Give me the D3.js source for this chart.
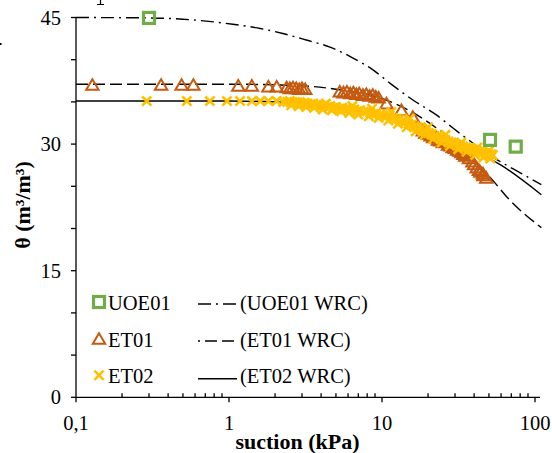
<!DOCTYPE html>
<html>
<head>
<meta charset="utf-8">
<script src="https://cdn.jsdelivr.net/npm/d3@7"></script>
<style>
  html, body { margin: 0; padding: 0; background: #fff; }
  svg { display: block; font-family: "Liberation Serif", "Times New Roman", serif; }
</style>
</head>
<body>
<svg id="chart" width="552" height="453"></svg>
<script>
// Axis ticks
const xMajorTicks = [0.1, 1, 10, 100];
const xTickLabels = ["0,1", "1", "10", "100"];
const yMinorTicks = [0, 5, 10, 15, 20, 25, 30, 35, 40, 45];
const yTickLabels = [0, 15, 30, 45];

// Measured points: UOE01
const uoeSuction = [0.3, 50.8, 74.8];
const uoeTheta   = [44.95, 30.5, 29.7];

// Measured points: ET01
const et01Suction = [0.128, 0.36, 0.49, 0.585, 1.15, 1.41, 1.81, 2.05, 2.38, 2.5, 2.62, 2.75, 2.88, 3.0, 3.15,
  5.3, 5.6, 5.9, 6.2, 6.5, 6.8, 7.1, 7.5, 7.9, 8.3, 8.7, 9.1, 9.5, 10.7, 13.4, 15.9,
  18.5, 19.2, 20, 20.8, 21.6, 22.4, 23.2, 24, 25, 26, 27, 28, 29, 30, 31, 32, 33, 34, 35, 36, 37,
  39, 40, 41.6, 43, 44, 45.7, 46, 48];
const et01Theta = [37.0, 37.0, 37.0, 37.0, 36.9, 36.9, 36.8, 36.8, 36.7, 36.6, 36.7, 36.6, 36.5, 36.6, 36.5,
  36.2, 36.1, 36.2, 36.0, 36.1, 35.9, 36.0, 35.8, 35.9, 35.7, 35.8, 35.6, 35.5, 34.8, 34.0, 33.2,
  31.6, 31.3, 31.2, 31.0, 30.8, 30.9, 30.5, 30.4, 30.2, 30.3, 29.9, 29.8, 29.6, 29.5, 29.3, 29.2, 29.0, 28.8, 28.6, 28.8, 28.3,
  27.9, 27.6, 27.2, 26.9, 26.7, 26.5, 26.3, 26.0];

// Measured points: ET02
const et02Suction = [0.29, 0.53, 0.75, 0.97, 1.18, 1.41, 1.6, 1.81, 2.05, 2.26,
  2.4, 2.5, 2.6, 2.7, 2.8, 2.9, 3.0, 3.1, 3.25, 3.4, 3.55, 3.7, 3.85, 4.0, 4.2, 4.4, 4.6, 4.8, 5.0, 5.25, 5.5, 5.75,
  6.0, 6.3, 6.6, 6.9, 7.2, 7.6, 8.0, 8.4, 8.8, 9.2, 9.7, 10.2, 10.7, 11.2, 11.8, 12.4, 13, 13.6, 14.2, 14.9, 15.6,
  16.3, 17, 17.7, 18.5, 19.3, 20.2, 21.1, 22, 23, 24, 25, 26, 27.2, 28.4, 29.6, 31, 32.4, 33.8, 35.3, 36.8, 38.4,
  40, 41.7, 43.5, 45.4, 47.4, 49.4, 51.5, 53,
  2.55, 2.85, 3.2, 3.6, 4.1, 4.7, 5.4, 6.1, 7.0, 8.2, 9.5, 11, 12.7, 14.5, 16.6, 19, 21.6, 24.5, 27.8, 31.5, 35.8, 40.7, 46, 51,
  4.3, 6.4, 8.6, 11.5, 15.2, 20, 26, 33, 42, 50];
const et02Theta = [35.1, 35.1, 35.1, 35.1, 35.1, 35.1, 35.1, 35.1, 35.1, 35.0,
  35.0, 35.1, 34.9, 35.0, 34.9, 35.0, 34.8, 34.9, 34.8, 34.7, 34.8, 34.6, 34.7, 34.5, 34.6, 34.4, 34.5, 34.3, 34.4, 34.2, 34.3, 34.1,
  34.2, 34.0, 34.1, 33.9, 34.0, 33.8, 33.9, 33.7, 33.6, 33.7, 33.5, 33.4, 33.3, 33.4, 33.1, 33.0, 32.9, 32.7, 32.6, 32.4, 32.3,
  32.1, 32.0, 31.8, 31.6, 31.5, 31.3, 31.2, 31.0, 30.9, 30.7, 30.6, 30.5, 30.3, 30.2, 30.1, 29.9, 29.8, 29.7, 29.6, 29.5, 29.4,
  29.3, 29.2, 29.1, 29.0, 28.9, 28.8, 28.8, 28.7,
  34.6, 34.5, 34.4, 34.3, 34.1, 34.0, 33.9, 33.7, 33.5, 33.3, 33.1, 32.8, 32.4, 32.0, 31.5, 31.1, 30.6, 30.2, 29.8, 29.4, 29.1, 28.7, 28.4, 28.3,
  34.8, 34.5, 34.2, 33.8, 33.0, 32.0, 31.1, 30.2, 29.6, 29.2];

// Water retention curves
const uoeWrcSuction = [0.1, 0.3, 0.5, 1.06, 1.6, 2.25, 3.24, 4.57, 6.46, 8.73, 11.3, 16, 22.9, 29.1, 39.4, 54.8, 80, 110];
const uoeWrcTheta   = [45.0, 44.95, 44.8, 44.2, 43.7, 43.1, 42.3, 41.5, 40.2, 38.8, 37.2, 35.2, 33.4, 31.9, 30.1, 28.3, 26.6, 25.2];
const et01WrcSuction = [0.1, 1, 3, 5, 10, 15, 20, 30, 53, 65, 110];
const et01WrcTheta   = [37.1, 37.1, 36.9, 36.5, 35.4, 34.0, 32.6, 30.2, 25.7, 23.8, 20.1];
const et02WrcSuction = [0.1, 1, 2, 3, 5, 10, 20, 40, 60, 110];
const et02WrcTheta   = [35.1, 35.1, 35.0, 34.8, 34.4, 33.4, 31.5, 29.2, 27.5, 24.0];

const colUoe = "#70AD47", colEt01 = "#C55A11", colEt02 = "#FFC000";

const svg = d3.select("#chart");
const x = d3.scaleLog().domain([0.1, 100]).range([76, 535]);
const y = d3.scaleLinear().domain([0, 45]).range([397.3, 17.5]);
const xEnd = 540;

const zip = (a, b) => a.map((v, i) => [v, b[i]]);

// Curves (under the markers)
const line = d3.line().x(d => x(d[0])).y(d => y(d[1])).curve(d3.curveMonotoneX);
const plot = svg.append("g");
const clip = svg.append("clipPath").attr("id", "plotclip");
clip.append("rect").attr("x", 76).attr("y", 0).attr("width", xEnd - 76 + 2).attr("height", 398);
const curves = plot.append("g").attr("clip-path", "url(#plotclip)")
  .attr("fill", "none").attr("stroke", "#000").attr("stroke-width", 1.4);
curves.append("path").attr("d", line(zip(uoeWrcSuction, uoeWrcTheta))).attr("stroke-dasharray", "13,5,2,5");
curves.append("path").attr("d", line(zip(et01WrcSuction, et01WrcTheta))).attr("stroke-dasharray", "12,5");
curves.append("path").attr("d", line(zip(et02WrcSuction, et02WrcTheta)));

// Marker shapes
function square(g, cx, cy) {
  g.append("rect").attr("x", cx - 5.5).attr("y", cy - 5.5).attr("width", 11).attr("height", 11)
    .attr("fill", "none").attr("stroke", colUoe).attr("stroke-width", 3.2);
}
function triangle(g, cx, cy) {
  g.append("path").attr("d", `M${cx},${cy - 5.8}L${cx + 6.2},${cy + 4.8}L${cx - 6.2},${cy + 4.8}Z`)
    .attr("fill", "none").attr("stroke", colEt01).attr("stroke-width", 2).attr("stroke-linejoin", "miter");
}
function cross(g, cx, cy) {
  const r = 4.6;
  g.append("path").attr("d", `M${cx - r},${cy - r}L${cx + r},${cy + r}M${cx - r},${cy + r}L${cx + r},${cy - r}`)
    .attr("stroke", colEt02).attr("stroke-width", 2.6);
}

const marks = plot.append("g");
zip(et01Suction, et01Theta).forEach(d => triangle(marks, x(d[0]), y(d[1])));
zip(et02Suction, et02Theta).forEach(d => cross(marks, x(d[0]), y(d[1])));
zip(uoeSuction, uoeTheta).forEach(d => square(marks, x(d[0]), y(d[1])));

// Axes
const ax = svg.append("g").attr("stroke", "#000").attr("stroke-width", 1.3);
ax.append("line").attr("x1", 76).attr("x2", 76).attr("y1", y(45)).attr("y2", y(0));
ax.append("line").attr("x1", 76).attr("x2", xEnd).attr("y1", y(0)).attr("y2", y(0));
yMinorTicks.forEach(t => ax.append("line").attr("x1", 71).attr("x2", 76).attr("y1", y(t)).attr("y2", y(t)));
// x: majors point down, minors point up
const xMinor = [];
[0.1, 1, 10].forEach(d => { for (let k = 2; k <= 9; k++) xMinor.push(d * k); });
xMinor.forEach(t => ax.append("line").attr("x1", x(t)).attr("x2", x(t)).attr("y1", y(0)).attr("y2", y(0) - 4));
xMajorTicks.forEach(t => ax.append("line").attr("x1", x(t)).attr("x2", x(t)).attr("y1", y(0)).attr("y2", y(0) + 5));

const txt = svg.append("g").attr("fill", "#000");
yTickLabels.forEach(t => txt.append("text").attr("x", 61).attr("y", y(t) + 7).attr("text-anchor", "end")
  .attr("font-size", 20.5).text(t));
xMajorTicks.forEach((t, i) => txt.append("text").attr("x", x(t)).attr("y", 430).attr("text-anchor", "middle")
  .attr("font-size", 20.5).text(xTickLabels[i]));

txt.append("text").attr("x", 297.5).attr("y", 449).attr("text-anchor", "middle")
  .attr("font-size", 22).attr("font-weight", "bold").text("suction (kPa)");
txt.append("text").attr("transform", "translate(29.5,205) rotate(-90)").attr("text-anchor", "middle")
  .attr("font-size", 22).attr("font-weight", "bold").text("θ (m³/m³)");

// Legend
const leg = svg.append("g");
const legRows = [
  { name: "UOE01", wrc: "(UOE01 WRC)", mark: square, my: 302, ly: 304, ty: 310, dash: "13,5,2,5", off: 0 },
  { name: "ET01", wrc: "(ET01 WRC)", mark: triangle, my: 339, ly: 341, ty: 346.5, dash: "12,5", off: 10 },
  { name: "ET02", wrc: "(ET02 WRC)", mark: cross, my: 375.3, ly: 378.7, ty: 382.5, dash: null, off: 0 }
];
legRows.forEach(r => {
  r.mark(leg, 99, r.my);
  leg.append("text").attr("x", 108).attr("y", r.ty).attr("font-size", 20.5).text(r.name);
  const l = leg.append("line").attr("x1", 198).attr("x2", 237).attr("y1", r.ly).attr("y2", r.ly)
    .attr("stroke", "#000").attr("stroke-width", 1.4);
  if (r.dash) l.attr("stroke-dasharray", r.dash).attr("stroke-dashoffset", r.off);
  leg.append("text").attr("x", 240).attr("y", r.ty).attr("font-size", 20.5).text(r.wrc);
});

// Fragments of surrounding page text at the top edge
svg.append("path").attr("d", "M100.5,0V4.5M97,4.5H104").attr("stroke", "#000").attr("stroke-width", 1.2);
svg.append("rect").attr("x", 0).attr("y", 43).attr("width", 1.5).attr("height", 2).attr("fill", "#000");
</script>
</body>
</html>
